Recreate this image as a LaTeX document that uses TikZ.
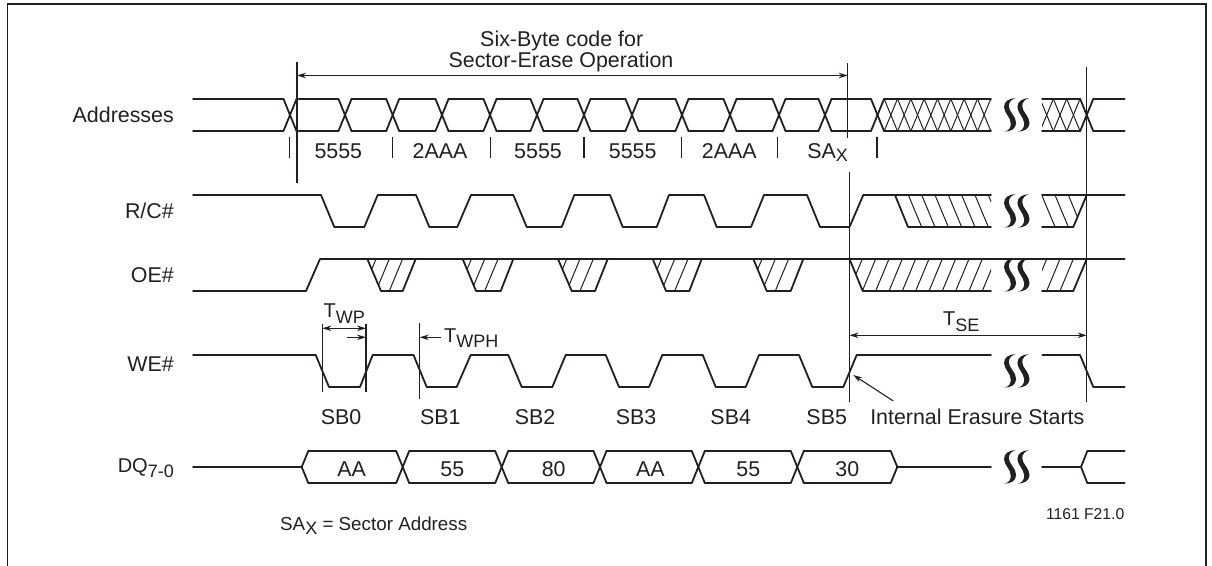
\documentclass[tikz,border=0pt]{standalone}
\usepackage{fontspec}
\setmainfont{Liberation Sans}
\usetikzlibrary{arrows.meta}
\definecolor{ink}{HTML}{231F20}
\newcommand{\fsz}[1]{\fontsize{#1}{#1}\selectfont}
\newcommand{\subtxt}[2][5.5pt]{\raisebox{-#1}{\fsz{18}#2}}
\tikzset{
  sig/.style={draw=ink,line width=1.8pt,line join=round,line cap=round},
  tickline/.style={draw=ink,line width=1.2pt},
  hatchline/.style={draw=ink,line width=1pt},
  guide/.style={draw=ink,line width=1.2pt},
  dimline/.style={draw=ink,line width=1.1pt},
  tipend/.style={-{Stealth[length=9pt,width=5.5pt]}},
  tipboth/.style={{Stealth[length=9pt,width=5.5pt]}-{Stealth[length=9pt,width=5.5pt]}},
  lab/.style={inner sep=0pt,text=ink,font=\fsz{21.4}},
  rowname/.style={lab,anchor=base east},
  brk/.pic={
    \fill[ink] (11.5,0) .. controls (5,0.5) and (-0.3,3) .. (-0.3,9)
      .. controls (-0.3,15) and (6.5,19) .. (6.5,26)
      .. controls (6.5,30) and (4,33) .. (0,33.6)
      .. controls (6,33.6) and (11.8,31) .. (11.8,25)
      .. controls (11.8,18) and (4.5,14) .. (4.5,8)
      .. controls (4.5,4) and (7.5,1) .. (11.5,0) -- cycle;
  },
  brks/.pic={
    \pic at (0,0) {brk};
    \pic at (13.4,0) {brk};
  }
}
\begin{document}
\begin{tikzpicture}[x=1pt,y=-1pt]
\useasboundingbox (0,0) rectangle (1212,565);
% frame
\draw[ink,line width=1.7pt] (7.5,566) -- (7.5,4) -- (1206,4) -- (1206,566);

% row names
\node[rowname] (nAddr) at (174,122.8) {Addresses};
\node[rowname] (nRC) at (174,218.8) {R/C\#};
\node[rowname] (nOE) at (174,282.5) {OE\#};
\node[rowname] (nWE) at (174,371.7) {WE\#};
\node[rowname] (nDQ) at (174,472.3) {\fsz{20}DQ\subtxt{7-0}};

% title
\node[lab] (title1) at (561.7,41) {Six-Byte code for};
\node[lab] (title2) at (561,62) {Sector-Erase Operation};

% Addresses bus
\foreach \c [remember=\c as \p (initially 186.5)] in {290,345,392.7,442,490,537,584,632,682,730,779,825,877.5}{
  \draw[sig] ({\c-6.5},99) -- ({\c+6.5},131);
  \draw[sig] ({\c-6.5},131) -- ({\c+6.5},99);
  \draw[sig] ({\p+6.5},99) -- ({\c-6.5},99);
  \draw[sig] ({\p+6.5},131) -- ({\c-6.5},131);
}
\draw[sig] (884,99) -- (991,99);
\draw[sig] (884,131) -- (991,131);
\begin{scope}
  \clip (884,95) rectangle (991,135);
  \foreach \k in {1,...,9}{
    \draw[hatchline] ({877.5+13.33*\k-6.6},99) -- ({877.5+13.33*\k+6.6},131);
    \draw[hatchline] ({877.5+13.33*\k-6.6},131) -- ({877.5+13.33*\k+6.6},99);
  }
\end{scope}
\draw[sig] (1042,99) -- (1080.2,99);
\draw[sig] (1042,131) -- (1080.2,131);
\begin{scope}
  \clip (1042,95) rectangle (1080.2,135);
  \foreach \c in {1046.7,1060,1073.4}{
    \draw[hatchline] ({\c-6.6},99) -- ({\c+6.6},131);
    \draw[hatchline] ({\c-6.6},131) -- ({\c+6.6},99);
  }
\end{scope}
\draw[sig] (1080.2,99) -- (1093.2,131) -- (1124.7,131);
\draw[sig] (1080.2,131) -- (1093.2,99) -- (1124.7,99);

% address tick marks
\foreach \t in {289.7,392.7,490.7,584,681.7,777.7,877}{
  \draw[tickline] (\t,137) -- (\t,158);
}
% address labels
\node[lab] (a1) at (338.3,151) {5555};
\node[lab] (a2) at (440,151) {2AAA};
\node[lab] (a3) at (538,151) {5555};
\node[lab] (a4) at (632.7,151) {5555};
\node[lab] (a5) at (729.3,151) {2AAA};
\node[lab,anchor=base] (a6) at (827.7,158) {SA\subtxt[3pt]{X}};

% R/C#
\draw[sig] (193,195) -- (321,195) -- (334.3,227) -- (364.3,227) -- (377.7,195)
  -- (416,195) -- (429.3,227) -- (457.3,227) -- (471,195)
  -- (513.3,195) -- (526.7,227) -- (561.7,227) -- (574.3,195)
  -- (610,195) -- (622.7,227) -- (656.7,227) -- (669,195)
  -- (704,195) -- (716.7,227) -- (751,227) -- (764,195)
  -- (807,195) -- (820,227) -- (849.5,227) -- (863.3,195) -- (991,195);
\draw[sig] (895,195) -- (908,227) -- (991,227);
\begin{scope}
  \clip (895,195) -- (908,227) -- (991,227) -- (991,195) -- cycle;
  \foreach \k in {1,...,8}{
    \draw[hatchline] ({895+13.33*\k},195) -- ({908.33+13.33*\k},227);
  }
\end{scope}
\draw[sig] (1042,195) -- (1124.7,195);
\draw[sig] (1042,227) -- (1073.3,227) -- (1086.7,195);
\begin{scope}
  \clip (1042,195) -- (1042,227) -- (1073.3,227) -- (1086.7,195) -- cycle;
  \foreach \t in {1041.7,1055,1068.3}{
    \draw[hatchline] (\t,195) -- ({\t+13.33},227);
  }
\end{scope}

% OE#
\draw[sig] (193,291) -- (306,291) -- (320,259) -- (1124.7,259);
\foreach \xa/\xb/\xc/\xd in {367.3/381/402.7/415.7,462.7/476/500.7/513.3,558/571.7/595/607.7,652.7/666/689.3/701.7,753.3/766.7/790.7/803.3}{
  \draw[sig] (\xa,259) -- (\xb,291) -- (\xc,291) -- (\xd,259);
  \begin{scope}
    \clip (\xa,259) -- (\xb,291) -- (\xc,291) -- (\xd,259) -- cycle;
    \foreach \o in {8.7,22,35.3}{
      \draw[hatchline] ({\xa+\o},259) -- ({\xa+\o-13.33},291);
    }
  \end{scope}
}
\draw[sig] (849.5,259) -- (862.7,291) -- (991,291);
\begin{scope}
  \clip (849.5,259) -- (862.7,291) -- (991,291) -- (991,259) -- cycle;
  \foreach \k in {0,...,10}{
    \draw[hatchline] ({862.3+13.33*\k},259) -- ({849+13.33*\k},291);
  }
\end{scope}
\draw[sig] (1042,291) -- (1073.3,291) -- (1086.7,259);
\begin{scope}
  \clip (1042,259) -- (1042,291) -- (1073.3,291) -- (1086.7,259) -- cycle;
  \foreach \t in {1046.7,1060,1073.3}{
    \draw[hatchline] (\t,259) -- ({\t-13.33},291);
  }
\end{scope}

% WE#
\draw[sig] (193,355) -- (315.7,355) -- (329,387) -- (360,387) -- (372.7,355)
  -- (413.5,355) -- (426.7,387) -- (456.7,387) -- (470.7,355)
  -- (508.3,355) -- (521.7,387) -- (552.3,387) -- (565.7,355)
  -- (605.7,355) -- (619,387) -- (649,387) -- (662.3,355)
  -- (702.7,355) -- (715.7,387) -- (745.7,387) -- (759,355)
  -- (799,355) -- (812.3,387) -- (843.3,387) -- (856.7,355) -- (991,355);
\draw[sig] (1042.3,355) -- (1080,355) -- (1093.3,387) -- (1124.7,387);

% DQ
\draw[sig] (193,467) -- (301.7,467) -- (308.3,451);
\draw[sig] (301.7,467) -- (308.3,483);
\foreach \c [remember=\c as \p (initially 301.8)] in {402.7,501.7,600,698.3,797.3}{
  \draw[sig] ({\p+6.5},451) -- ({\c-6.5},451) -- ({\c+6.5},483);
  \draw[sig] ({\p+6.5},483) -- ({\c-6.5},483) -- ({\c+6.5},451);
}
\draw[sig] (803.8,451) -- (890.7,451) -- (897.3,467) -- (991,467);
\draw[sig] (803.8,483) -- (890.7,483) -- (897.3,467);
\draw[sig] (1042,467) -- (1081,467) -- (1087.3,451) -- (1124.7,451);
\draw[sig] (1081,467) -- (1087.3,483) -- (1124.7,483);
\node[lab] (d1) at (351.7,469) {AA};
\node[lab] (d2) at (452.3,469) {55};
\node[lab] (d3) at (553.7,469) {80};
\node[lab] (d4) at (650.3,469) {AA};
\node[lab] (d5) at (748.3,469) {55};
\node[lab] (d6) at (847.3,469) {30};

% break marks
\foreach \y in {98,194,258,354,450}{
  \pic at (1004.3,\y) {brks};
}

% guides
\coordinate (g1t) at (297,62);   \coordinate (g1b) at (297,183);
\coordinate (g2t) at (847.7,63); \coordinate (g2b) at (847.7,137.5);
\coordinate (g3t) at (849.5,172);\coordinate (g3b) at (849.5,401.7);
\coordinate (g4t) at (1086.7,66.5);\coordinate (g4b) at (1086.7,401.7);
\draw[guide] (g1t) -- (g1b);
\draw[guide] (g2t) -- (g2b);
\draw[guide] (g3t) -- (g3b);
\draw[guide] (g4t) -- (g4b);
\draw[dimline,tipboth] (297,75.5) -- (847.7,75.5);

% WE# timing
\draw[guide] (322.3,324) -- (322.3,391.7);
\draw[guide] (366,324) -- (366,391.7);
\draw[dimline,tipboth] (322.3,328.3) -- (366,328.3);
\draw[dimline,tipend] (347.3,337.3) -- (366,337.3);
\node[lab,anchor=base west,font=\fsz{20}] (twp) at (323.5,317.7) {T\subtxt[5.5pt]{WP}};
\draw[guide] (419.7,323.3) -- (419.7,399);
\draw[dimline,tipend] (440.7,337.3) -- (419.7,337.3);
\node[lab,anchor=base west,font=\fsz{20}] (twph) at (444,342.3) {T\subtxt[5.5pt]{WPH}};
\draw[dimline,tipboth] (849.5,335.3) -- (1086.7,335.3);
\node[lab,anchor=base west,font=\fsz{20}] (tse) at (943,325.7) {T\subtxt[5.5pt]{SE}};
\draw[dimline,tipend] (893.3,401) -- (853.3,375);

% SB labels
\node[lab] (s0) at (341,416.7) {SB0};
\node[lab] (s1) at (440.3,416.7) {SB1};
\node[lab] (s2) at (535,416.7) {SB2};
\node[lab] (s3) at (636,416.7) {SB3};
\node[lab] (s4) at (730.7,416.7) {SB4};
\node[lab] (s5) at (826.7,416.7) {SB5};
\node[lab] (ie) at (977.3,416.7) {Internal Erasure Starts};

% footers
\node[lab,anchor=base west,font=\fsz{18.8}] (foot) at (280,530.7) {SA\raisebox{-4pt}{\fsz{18}X} = Sector Address};
\node[lab,anchor=base east,font=\fsz{15.7}] (code) at (1124.5,519) {1161 F21.0};
\end{tikzpicture}
\end{document}
